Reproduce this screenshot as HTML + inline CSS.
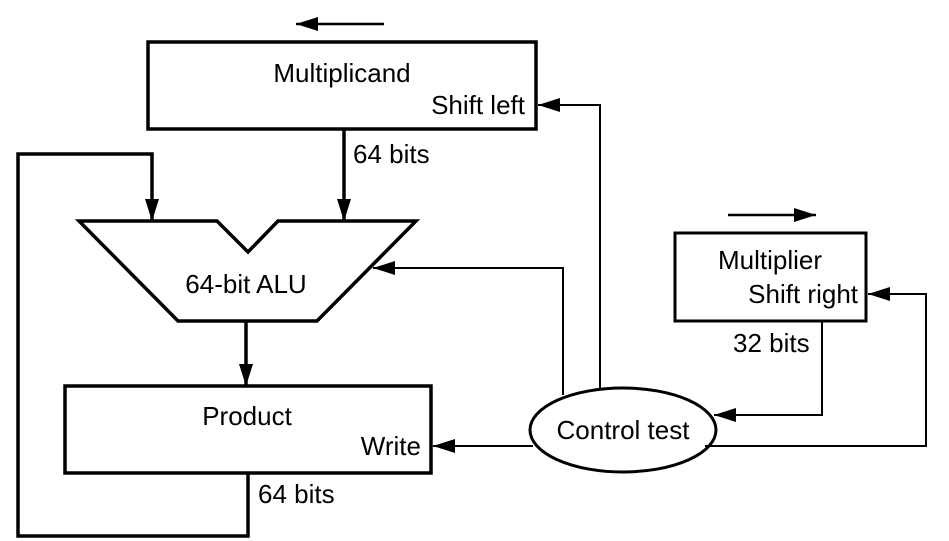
<!DOCTYPE html>
<html><head><style>body{margin:0;background:#fff}svg{display:block}text{font-family:"Liberation Sans",Arial,sans-serif;font-size:26px;fill:#000}</style></head><body>
<svg width="949" height="541" viewBox="0 0 949 541">
<defs><marker id="b" markerWidth="22" markerHeight="14" refX="22" refY="7" orient="auto" markerUnits="userSpaceOnUse"><path d="M0,0 L22,7 L0,14 z" fill="#000"/></marker></defs>
<g fill="none" stroke="#000">
<line x1="384" y1="24" x2="296" y2="24" stroke-width="2.5" marker-end="url(#b)"/>
<line x1="728" y1="215" x2="816" y2="215" stroke-width="2.5" marker-end="url(#b)"/>
<rect x="148" y="42" width="388" height="87" stroke-width="3.5"/>
<rect x="675" y="233" width="191" height="88" stroke-width="3"/>
<rect x="65" y="386" width="366" height="87" stroke-width="3.5"/>
<polygon points="79,221 217,221 248,252 278,221 416,221 317,321 178,321" stroke-width="3.5" stroke-linejoin="miter"/>
<ellipse cx="623" cy="430" rx="93" ry="42" stroke-width="3"/>
<line x1="344" y1="129" x2="344" y2="221" stroke-width="3.5" marker-end="url(#b)"/>
<polyline points="248,473 248,536 18,536 18,154 152,154 152,221" stroke-width="3.5" marker-end="url(#b)"/>
<line x1="246" y1="321" x2="246" y2="386" stroke-width="3.5" marker-end="url(#b)"/>
<polyline points="563,395 563,268 373,268" stroke-width="2" marker-end="url(#b)"/>
<polyline points="600,388 600,105 538,105" stroke-width="2" marker-end="url(#b)"/>
<polyline points="822,321 822,415 714,415" stroke-width="2" marker-end="url(#b)"/>
<polyline points="705,446 926,446 926,294 868,294" stroke-width="2" marker-end="url(#b)"/>
<line x1="533" y1="446" x2="433" y2="446" stroke-width="2" marker-end="url(#b)"/>
</g>
<text x="342" y="82" text-anchor="middle">Multiplicand</text>
<text x="525" y="114" text-anchor="end">Shift left</text>
<text x="353" y="163">64 bits</text>
<text x="246" y="293" text-anchor="middle">64-bit ALU</text>
<text x="770" y="269" text-anchor="middle">Multiplier</text>
<text x="858" y="303" text-anchor="end">Shift right</text>
<text x="733" y="352">32 bits</text>
<text x="623" y="439" text-anchor="middle">Control test</text>
<text x="247" y="425" text-anchor="middle">Product</text>
<text x="421" y="455" text-anchor="end">Write</text>
<text x="258" y="503">64 bits</text>
</svg></body></html>
